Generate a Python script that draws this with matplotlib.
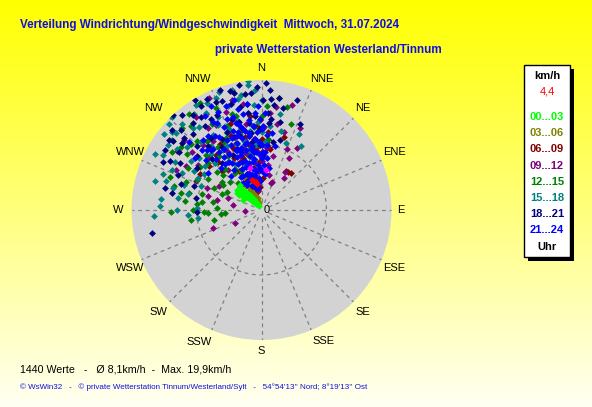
import numpy as np
import matplotlib
matplotlib.use("Agg")
import matplotlib.pyplot as plt
from matplotlib.patches import Rectangle
from matplotlib.transforms import offset_copy

W, H = 592, 407

# wind direction (deg) and speed (km/h), one pair of lists per 3-hour block
blue_dir = [335, 335, 335, 335, 338, 338, 338, 338, 338, 340, 340, 340, 340, 340, 342, 342, 342, 342, 342,
            345, 345, 345, 345, 345, 345, 348, 348, 348, 348, 348, 350, 350, 350, 350, 350, 352, 352, 352, 352,
            355, 355, 355, 355, 355, 358, 358, 358, 358, 0, 0, 0, 3, 3, 6, 6, 10, 328, 328, 328, 325, 325, 322,
            318, 318, 330, 333, 343, 352, 347, 315, 320, 0, 4, 2, 12, 8, 312, 313, 308, 305, 316,
            322, 324, 326, 328, 330, 331, 333, 334, 336, 337, 339, 341, 343, 344, 346, 347, 349, 351, 353,
            354, 356, 357, 359, 1, 1, 5, 330, 332, 326, 324, 320, 318, 336, 341, 346, 352, 358, 329, 334]
blue_spd = [5, 7, 9, 11, 4, 6, 8, 10, 12, 5, 7, 9, 11, 13, 4, 6, 8, 10, 12,
            3.5, 5.5, 7.5, 9.5, 11.5, 13.5, 4.5, 6.5, 8.5, 10.5, 12.5, 3.5, 5.5, 7.5, 9.5, 11.5, 4, 6, 8, 10,
            5, 7, 9, 11, 13, 4.5, 6.5, 8.5, 10.5, 6, 8, 10, 7, 9, 5.5, 8, 6.5, 6, 8.5, 11, 7.5, 10, 9,
            7, 10.5, 13, 15, 15, 14, 16, 13, 12, 12.5, 11.5, 15, 10, 12, 11.5, 15.3, 13, 10, 9,
            12, 14, 9, 13.5, 10, 15.5, 8, 12, 14, 10, 15, 9.5, 12.5, 14, 10.5, 13, 15, 12, 9,
            13, 15, 12, 14, 9, 13, 10, 4.5, 6, 5, 11, 14, 12.5, 16.5, 17, 17.5, 16.5, 16, 16.8, 17.8]

navy_dir = [329, 317, 307, 308, 296, 300, 293, 281, 283, 280, 258, 4, 5, 9, 18, 4, 5, 15, 10, 268,
            352, 352, 352, 352, 352, 352, 352, 359, 359, 345, 340, 335, 330, 326, 322, 318, 313, 310, 305,
            320, 328, 336, 342, 348, 344, 338, 332, 316, 303, 290, 347, 2, 6, 12,
            312, 315, 320, 324, 327, 331, 334, 337, 341, 344, 347, 350, 355, 358, 1, 325, 331, 339, 346,
            356, 298, 302, 288, 310, 315, 320, 2, 12, 7, 24]
navy_spd = [19.8, 20.0, 17.9, 17.3, 16.8, 14.5, 13.9, 14.1, 15.2, 10.3, 17.3, 18.5, 17.1, 17.5, 17.8, 15.0,
            13.4, 11.2, 10.6, 10.0, 18.0, 16.5, 15.0, 13.5, 12.0, 10.5, 9.2, 12.5, 10.0, 19.0, 17.8, 16.2,
            18.5, 15.5, 17.0, 15.8, 16.2, 13.0, 15.5, 12.8, 11.5, 13.2, 14.8, 16.2, 11.8, 10.2, 9.5, 11.0,
            11.8, 11.0, 12.8, 8.5, 14.0, 13.8,
            18.5, 17.5, 19.0, 18.0, 17.0, 16.0, 19.0, 18.0, 19.5, 17.0, 18.5, 19.5, 18.0, 19.0, 17.0, 13.5,
            12.5, 12.0, 14.0, 14.5, 16.0, 17.5, 13.0, 16.0, 14.0, 9.5, 19.5, 16.0, 16.3, 14.5]

teal_dir = [354, 354, 32, 14, 316, 311, 312, 299, 299, 290, 287, 272, 267, 282, 266, 272, 263,
            320, 325, 330, 335, 338, 342, 345, 348, 352, 356, 358, 0, 3, 318, 322, 327, 332, 336, 340, 344,
            348, 305, 308, 300, 295, 315, 325, 330, 340, 350, 310, 302, 288, 278, 333, 346, 355,
            305, 308, 313, 317, 323, 328, 333, 340, 346, 350, 357, 0, 306, 294, 284, 297, 292, 310, 318,
            327, 338, 343, 352, 276, 270, 285, 298, 6, 11, 20, 26]
teal_spd = [19.9, 19.3, 11.6, 12.5, 19.8, 18.3, 17.7, 17.4, 15.3, 16.1, 15.3, 15.7, 16.6, 11.5, 11.3, 9.9,
            9.9, 16.5, 18.0, 17.2, 15.8, 18.6, 16.9, 14.2, 17.5, 15.0, 16.2, 13.5, 12.0, 10.5, 14.0, 12.5,
            13.8, 11.2, 12.9, 10.8, 12.2, 9.5, 13.2, 11.0, 12.0, 13.5, 10.2, 9.0, 8.2, 7.5, 8.8, 15.0, 10.5,
            12.5, 13.0, 14.6, 11.0, 10.0,
            17.5, 19.0, 19.5, 18.0, 16.0, 19.0, 18.5, 19.3, 19.0, 18.0, 18.5, 17.0, 16.0, 15.0, 14.0, 11.0,
            10.0, 12.5, 11.5, 11.0, 13.5, 15.0, 12.3, 15.5, 13.0, 17.0, 18.5, 13.0, 15.0, 11.0, 13.0]

green_dir = [14, 9, 308, 307, 290, 282, 277, 269, 268, 265, 265, 267, 258,
             300, 295, 305, 310, 315, 318, 322, 326, 330, 334, 338, 342, 346, 350, 355, 0, 5, 312, 318, 324,
             328, 333, 285, 280, 275, 262, 300, 313, 320, 336, 343, 352, 298, 325, 347, 278, 272,
             303, 308, 316, 323, 330, 290, 285, 295, 305, 311, 317, 322, 331, 339, 345, 358, 3, 303, 292,
             270, 283, 312, 327, 19]
green_spd = [16.3, 17.4, 15.7, 14.4, 12.4, 12.7, 11.8, 14.0, 8.9, 6.3, 5.6, 8.2, 7.5,
             9.5, 8.0, 7.5, 9.0, 12.0, 8.5, 10.5, 13.5, 15.2, 12.3, 14.0, 9.8, 13.0, 11.5, 12.8, 14.5, 11.0,
             6.5, 5.5, 7.0, 9.8, 6.8, 9.5, 7.5, 10.0, 11.0, 13.0, 14.8, 16.8, 17.2, 15.5, 7.8, 6.0, 11.8, 8.5,
             9.2, 6.8,
             16.5, 17.5, 17.5, 18.5, 19.0, 15.0, 14.0, 11.0, 11.5, 11.0, 14.5, 13.5, 12.0, 11.0, 15.0, 10.5,
             16.0, 7.0, 6.5, 10.5, 11.5, 8.0, 7.5, 14.0]

purple_dir = [8, 16, 23, 32, 20, 351, 305, 294, 243, 265, 20,
              28, 12, 5, 0, 355, 350, 345, 340, 335, 330, 325, 320, 315, 310, 300, 290, 280, 345, 355, 2, 10,
              340, 330, 350, 285, 295, 322, 250, 12, 25, 332, 358,
              300, 305, 312, 318, 327, 337, 342, 347, 352, 357, 3, 8, 16, 30, 35, 325, 335, 292, 283, 5, 345]
purple_spd = [16.0, 16.8, 10.2, 6.9, 4.6, 3.1, 15.9, 11.1, 4.5, 2.5, 4.4,
              9.0, 8.5, 9.5, 7.5, 11.0, 13.5, 9.0, 12.0, 7.0, 10.5, 13.0, 8.0, 11.5, 14.0, 7.5, 5.5, 4.5, 5.5,
              6.0, 12.8, 13.5, 16.0, 17.0, 16.5, 8.5, 14.5, 5.0, 8.0, 5.5, 14.0, 14.8, 4.5,
              13.5, 12.0, 16.0, 13.5, 15.0, 10.0, 14.5, 11.0, 7.5, 9.0, 10.5, 7.0, 12.5, 11.0, 6.0, 17.5,
              19.0, 9.0, 7.0, 15.0, 17.5]

maroon_dir = [32, 35, 38, 17, 359, 340, 342, 344, 346, 348, 350, 352, 354, 356, 358, 338, 336, 334, 345,
              350, 355, 0, 0, 330, 325, 320, 315, 345, 335, 350, 355, 2, 340, 310,
              340, 343, 347, 351, 354, 357, 353, 337, 332, 328, 322, 318, 300, 5, 8]
maroon_spd = [7.0, 7.2, 7.3, 11.7, 13.9, 4, 5.5, 7, 3.5, 5, 6.5, 8, 4.5, 6, 7.5, 6, 8, 5, 9,
              10, 9.5, 9, 11, 7, 9, 11, 8.5, 12.5, 10.5, 3, 3.5, 5, 14, 10.5,
              8.5, 10, 11.5, 12, 11, 13, 14.5, 12.5, 9, 12, 13.5, 10, 11, 12, 9.5]

olive_dir = [326, 328, 330, 330, 332, 333, 334, 335, 336, 337, 338, 339, 340, 341, 342, 343, 330, 333, 336,
             339, 342, 328, 331, 334, 337, 340, 344, 335, 338, 332]
olive_spd = [3.5, 4.4, 2.9, 5.2, 3.9, 1.8, 4.7, 2.5, 5.6, 3.2, 4.1, 1.5, 2.7, 3.7, 5.0, 2.0, 1.3, 2.4, 3.4,
             4.6, 5.9, 2.2, 6.1, 3.0, 1.1, 4.3, 3.6, 5.4, 2.6, 4.9]

lime_dir = [305, 308, 310, 312, 314, 315, 316, 318, 318, 320, 320, 322, 322, 324, 325, 326, 328, 310, 312,
            314, 316, 318, 320, 306, 309, 311, 313, 317, 319, 321, 323, 300, 303, 315, 319]
lime_spd = [4.6, 4.2, 4.9, 3.8, 4.4, 3.5, 3.1, 2.8, 4.0, 2.2, 3.4, 1.8, 2.6, 1.4, 2.0, 1.1, 0.8, 3.6, 3.0,
            2.4, 1.9, 1.5, 1.2, 3.9, 3.3, 2.7, 2.1, 4.7, 3.7, 2.9, 1.7, 3.2, 4.1, 4.5, 5.0]

red_dir = [342, 348, 345, 350]
red_spd = [4.9, 4.4, 4.6, 4.0]
pink_dir = [6, 345]
pink_spd = [6.2, 6.7]

dir_labels = ["N", "NNE", "NE", "ENE", "E", "ESE", "SE", "SSE",
              "S", "SSW", "SW", "WSW", "W", "WNW", "NW", "NNW"]
hour_labels = ["00...03", "03...06", "06...09", "09...12", "12...15", "15...18", "18...21", "21...24"]
hour_colors = ["#00FF00", "#808000", "#800000", "#800080", "#008000", "#008080", "#000080", "#0000FF"]

# small pixel nudges of the compass labels (right / down)
label_dx = [0, 6, 0, 1, -3.5, 1, 0, 7, 0, -8, -2, 1, 0, 1, -7, -9]
label_dy = [1, 1, -1, -3, 0, 3, 1, -1, -2, 0, 1, 3, 0, -3, -1, 1]


def fx(x):
    return x / W


def fy(y):
    return 1 - y / H


fig = plt.figure(figsize=(W / 100, H / 100), dpi=100)

# yellow gradient background
bg = fig.add_axes([0, 0, 1, 1])
grad = np.ones((H, 2, 3))
grad[:, :, 2] = np.linspace(0.0, 0.95, H)[:, None]
bg.imshow(grad, aspect="auto", extent=[0, 1, 0, 1])
bg.set_axis_off()

ax = fig.add_axes([fx(131.5), fy(340), 260 / W, 260 / H], projection="polar")
ax.set_theta_zero_location("N")
ax.set_theta_direction(-1)
ax.set_ylim(0, 20)
ax.set_facecolor("#D3D3D3")
ax.spines["polar"].set_visible(False)
ax.set_xticks([])
ax.set_yticks([])
ax.grid(False)

for i in range(16):
    a = np.radians(i * 22.5)
    ax.plot([a, a], [1.2, 20], color="#808080", lw=0.9, ls=(0, (3, 3)), zorder=1)
t = np.linspace(0, 2 * np.pi, 300)
ax.plot(t, np.full_like(t, 10), color="#808080", lw=0.9, ls=(0, (3, 3)), zorder=1)

ax.text(np.radians(90), 0.4, "0", fontsize=8, ha="left", va="center", zorder=1,
        family="Liberation Sans")
ax.text(np.radians(6), 10.05, "10", fontsize=8, ha="center", va="center", zorder=1,
        family="Liberation Sans")

for i, lab in enumerate(dir_labels):
    tr = offset_copy(ax.transData, fig=fig, x=label_dx[i], y=-label_dy[i], units="dots")
    ax.text(np.radians(i * 22.5), 22, lab, fontsize=8, ha="center", va="center",
            family="Liberation Sans", transform=tr)

groups = [(olive_dir, olive_spd, hour_colors[1]), (maroon_dir, maroon_spd, hour_colors[2]),
          (purple_dir, purple_spd, hour_colors[3]), (green_dir, green_spd, hour_colors[4]),
          (teal_dir, teal_spd, hour_colors[5]), (navy_dir, navy_spd, hour_colors[6]),
          (blue_dir, blue_spd, hour_colors[7]), (lime_dir, lime_spd, hour_colors[0]),
          (red_dir, red_spd, "#FF0000"), (pink_dir, pink_spd, "#FF00FF")]
for d, s, c in groups:
    ax.scatter(np.radians(d), s, s=12, marker="D", color=c, linewidths=0, zorder=3)

# titles
fig.text(fx(20), fy(25), "Verteilung Windrichtung/Windgeschwindigkeit  Mittwoch, 31.07.2024",
         color="#1010E0", fontsize=8.4, weight="bold", va="center", ha="left",
         family="Liberation Sans")
fig.text(fx(215), fy(50), "private Wetterstation Westerland/Tinnum",
         color="#1010E0", fontsize=8.4, weight="bold", va="center", ha="left",
         family="Liberation Sans")

# legend box with shadow
fig.patches.append(Rectangle((fx(528), fy(261)), 46 / W, 192 / H, transform=fig.transFigure,
                             facecolor="black", edgecolor="none", zorder=5))
fig.patches.append(Rectangle((fx(524), fy(257)), 46 / W, 192 / H, transform=fig.transFigure,
                             facecolor="white", edgecolor="black", lw=1, zorder=6))
fig.text(fx(547), fy(76), "km/h", fontsize=8, weight="bold", ha="center", va="center",
         family="Liberation Sans", zorder=7)
fig.text(fx(547), fy(91), "4,4", fontsize=8, color="#FF0000", ha="center", va="center",
         family="Liberation Sans", zorder=7)
for i, (lab, c) in enumerate(zip(hour_labels, hour_colors)):
    fig.text(fx(547), fy(117 + i * 16.2), lab, fontsize=8, weight="bold", color=c,
             ha="center", va="center", family="Liberation Sans", zorder=7)
fig.text(fx(547), fy(247), "Uhr", fontsize=8, weight="bold", ha="center", va="center",
         family="Liberation Sans", zorder=7)

# footer
fig.text(fx(20), fy(370), "1440 Werte   -   \u00d8 8,1km/h  -  Max. 19,9km/h", fontsize=7.7,
         ha="left", va="center", family="Liberation Sans")
fig.text(fx(20), fy(387),
         "\u00a9 WsWin32   -   \u00a9 private Wetterstation Tinnum/Westerland/Sylt   -   "
         "54\u00b054'13'' Nord; 8\u00b019'13'' Ost",
         fontsize=5.8, color="#1010E0", ha="left", va="center", family="Liberation Sans")

fig.savefig("out.png", dpi=100)
